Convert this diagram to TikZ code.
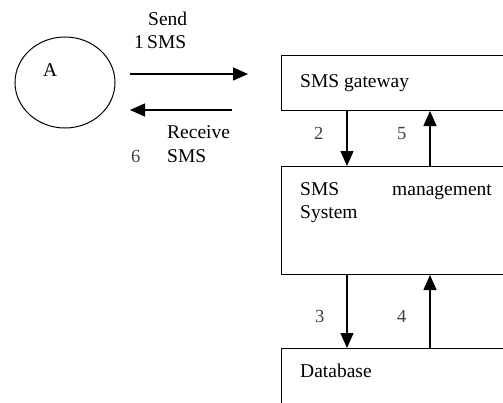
\documentclass[tikz,border=0pt]{standalone}
\usepackage{fontspec}
\setmainfont{Liberation Serif}
\usetikzlibrary{arrows.meta,shapes.geometric}
\begin{document}
\begin{tikzpicture}[x=1pt,y=-1pt,
  box/.style={draw,line width=1pt,anchor=north west,inner sep=0pt,minimum width=240pt},
  txt/.style={anchor=base west,inner sep=0pt,font=\fontsize{19.5}{22}\selectfont},
  num/.style={anchor=base west,inner sep=0pt,font=\fontsize{18.5}{20}\selectfont,text=black!75},
  arr/.style={line width=1.4pt,-{Triangle[length=15pt,width=13pt]}}]
\useasboundingbox (0,0) rectangle (503,402);
\clip (0,0) rectangle (503,402);
% actor
\node[draw,ellipse,line width=1pt,minimum width=100pt,minimum height=91pt,inner sep=0pt] (A) at (65,82.5) {};
\node[txt] (Alab) at (43,76) {A};
% boxes
\node[box,minimum height=55pt] (gw) at (281,55) {};
\node[box,minimum height=108pt] (mg) at (281,166) {};
\node[box,minimum height=70pt] (db) at (281,348) {};
% box texts
\node[txt] (gwt) at (300,87) {SMS gateway};
\node[txt] (mgt1) at (300,195) {SMS};
\node[txt] (mgt2) at (392,195) {management};
\node[txt] (mgt3) at (300,218) {System};
\node[txt] (dbt) at (300,377) {Database};
% send / receive
\coordinate (s1) at (130,74);
\coordinate (s2) at (248,74);
\coordinate (r1) at (232,110);
\coordinate (r2) at (130,110);
\draw[arr] (s1) -- (s2);
\draw[arr] (r1) -- (r2);
\node[txt] (send) at (148,25) {Send};
\node[txt] (one) at (134,48) {1};
\node[txt] (sms1) at (147,48) {SMS};
\node[txt] (recv) at (167,138) {Receive};
\node[num] (six) at (131,162) {6};
\node[txt] (sms2) at (167,162) {SMS};
% vertical arrows
\coordinate (dx) at (347,0);
\coordinate (ux) at (430,0);
\draw[arr] (gw.south -| dx) -- (mg.north -| dx);
\draw[arr] (mg.north -| ux) -- (gw.south -| ux);
\draw[arr] (mg.south -| dx) -- (db.north -| dx);
\draw[arr] (db.north -| ux) -- (mg.south -| ux);
\node[num] (n2) at (314,139) {2};
\node[num] (n5) at (397,139) {5};
\node[num] (n3) at (315,322) {3};
\node[num] (n4) at (397,322) {4};
\end{tikzpicture}
\end{document}
